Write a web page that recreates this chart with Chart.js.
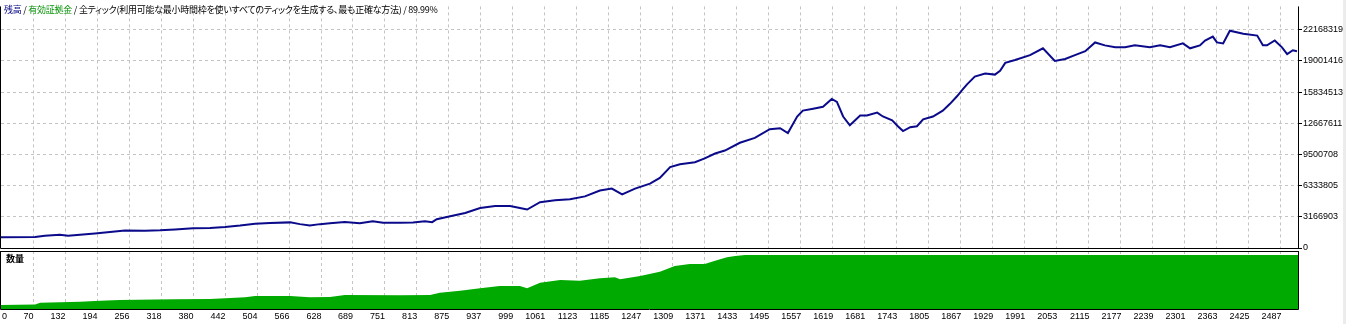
<!DOCTYPE html>
<html>
<head>
<meta charset="utf-8">
<script src="https://cdn.jsdelivr.net/npm/chart.js@4.4.1/dist/chart.umd.min.js"></script>
<style>
  html, body { margin: 0; padding: 0; background: #fff; }
  #wrap { position: relative; width: 1346px; height: 324px; overflow: hidden; }
  #top, #bottom { position: absolute; left: 0; }
  #top { top: 0; }
  #bottom { top: 250px; }
  .caption { position: absolute; font-family: "Noto Sans CJK JP"; font-size: 9px; line-height: 11px;
             white-space: nowrap; font-feature-settings: "palt"; color: #000; }
  #title { left: 4px; top: 4px; letter-spacing: -0.25px; }
  #volLabel { left: 6px; top: 253px; font-weight: bold; }
  #edge { position: absolute; right: 0; top: 0; width: 3px; height: 324px; background: #ececec; }
</style>
</head>
<body>
<div id="wrap">
  <canvas id="top" width="1346" height="264"></canvas>
  <canvas id="bottom" width="1346" height="74"></canvas>
  <div id="title" class="caption"><span style="color:#000080">残高</span> / <span style="color:#009000">有効証拠金</span> / 全ティック(利用可能な最小時間枠を使いすべてのティックを生成する、最も正確な方法) / 89.99%</div>
  <div id="volLabel" class="caption">数量</div>
  <div id="edge"></div>
</div>
<script>
// balance curve (trade number / account balance)
const tradeNo = [8,74,93,122,138,161,190,219,248,287,
  316,345,380,413,442,471,500,529,568,587,
  606,626,645,674,703,728,748,781,806,829,
  843,852,878,907,936,965,994,1013,1027,1052,
  1081,1110,1139,1168,1191,1211,1236,1265,1284,1304,
  1323,1352,1371,1391,1410,1439,1468,1497,1517,1532,
  1550,1561,1581,1600,1617,1627,1639,1652,1672,1685,
  1705,1716,1734,1745,1755,1769,1782,1794,1813,1832,
  1846,1860,1871,1879,1894,1914,1933,1943,1953,1972,
  2001,2026,2049,2069,2088,2108,2127,2146,2166,2185,
  2204,2233,2253,2272,2297,2311,2330,2340,2355,2363,
  2375,2388,2414,2441,2452,2460,2475,2489,2499,2510,
  2518];
const balance = [1089000,1108000,1237000,1336000,1237000,1336000,1484000,1633000,1781000,1762000,
  1801000,1880000,2009000,2029000,2128000,2276000,2474000,2543000,2603000,2425000,
  2276000,2425000,2504000,2642000,2524000,2722000,2573000,2573000,2603000,2722000,
  2623000,2919000,3216000,3563000,4058000,4256000,4256000,4058000,3909000,4651000,
  4849000,4948000,5245000,5839000,6037000,5443000,6037000,6532000,7126000,8214000,
  8511000,8709000,9105000,9600000,9897000,10688000,11183000,12074000,12173000,11678000,
  13360000,13954000,14152000,14350000,15142000,14845000,13360000,12470000,13459000,13459000,
  13756000,13360000,12965000,12371000,11876000,12272000,12371000,13064000,13360000,13954000,
  14647000,15439000,16131000,16626000,17418000,17715000,17616000,18012000,18804000,19100000,
  19595000,20288000,19001000,19199000,19595000,19991000,20882000,20585000,20387000,20387000,
  20585000,20387000,20585000,20387000,20783000,20288000,20585000,21080000,21476000,20882000,
  20783000,22069000,21773000,21575000,20585000,20585000,21080000,20387000,19694000,20090000,
  19991000];

// lot size panel
const volTrade = [8,74,84,161,200,238,345,413,481,500,
  568,606,645,674,781,839,858,897,936,974,
  1013,1027,1052,1091,1129,1168,1197,1207,1246,1284,
  1313,1342,1371,1391,1414,1430,1449,2520];
const volume = [0.40,0.45,0.63,0.73,0.83,0.90,0.97,1.00,1.17,1.30,
  1.30,1.17,1.20,1.40,1.37,1.40,1.63,1.83,2.07,2.30,
  2.30,2.07,2.63,2.90,2.83,3.07,3.17,2.97,3.30,3.73,
  4.30,4.50,4.50,4.83,5.17,5.30,5.40,5.40];

const xTicks = [0,70,132,194,256,318,380,442,504,566,628,689,751,813,875,937,999,1061,1123,1185,
  1247,1309,1371,1433,1495,1557,1619,1681,1743,1805,1867,1929,1991,2053,2115,2177,2239,2301,2363,2425,2487];
const yTicks = [0,3166903,6333805,9500708,12667611,15834513,19001416,22168319];

const xMin = 8, xMax = 2520;
const gridColor = '#c4c4c4';
const labelFont = '9px "Liberation Sans"';

Chart.defaults.font.family = 'Liberation Sans';
Chart.defaults.font.size = 9;
Chart.defaults.color = '#000';

function setXTicks(scale) {
  scale.ticks = xTicks.map(v => ({ value: Math.max(v, scale.min) }));
}

const framePlugin = {
  id: 'frame',
  afterDatasetsDraw(chart, args, opts) {
    const { ctx, chartArea: a } = chart;
    ctx.save();
    ctx.strokeStyle = '#000';
    ctx.lineWidth = 1;
    ctx.beginPath();
    ctx.moveTo(a.left - 0.5, a.top);
    ctx.lineTo(a.left - 0.5, a.bottom + 0.5);
    ctx.lineTo(a.right + 0.5, a.bottom + 0.5);
    ctx.lineTo(a.right + 0.5, a.top);
    if (opts.top) {
      ctx.moveTo(a.left - 0.5, a.top + 0.5);
      ctx.lineTo(a.right + 0.5, a.top + 0.5);
    }
    ctx.stroke();
    ctx.restore();
  }
};

const xLabelPlugin = {
  id: 'xLabels',
  afterDraw(chart) {
    const sc = chart.scales.x, ctx = chart.ctx;
    ctx.save();
    ctx.font = labelFont;
    ctx.fillStyle = '#000';
    ctx.textBaseline = 'top';
    sc.ticks.forEach((t, i) => {
      const px = sc.getPixelForTick(i);
      ctx.textAlign = i === 0 ? 'left' : 'right';
      ctx.fillText(String(xTicks[i]), i === 0 ? px + 1 : px + 0.5, chart.chartArea.bottom + 3);
    });
    ctx.restore();
  }
};

const hideFirst = c => (c.index === 0 ? 'rgba(0,0,0,0)' : gridColor);

new Chart(document.getElementById('top'), {
  type: 'line',
  data: {
    datasets: [{
      data: tradeNo.map((t, i) => ({ x: t, y: balance[i] })),
      borderColor: '#0a0a8a',
      borderWidth: 2,
      pointRadius: 0,
      tension: 0,
      fill: false
    }]
  },
  options: {
    animation: false,
    responsive: false,
    devicePixelRatio: 1,
    layout: { padding: { top: 0, left: 1, right: 0, bottom: 16 } },
    plugins: { legend: { display: false }, tooltip: { enabled: false }, frame: { top: false } },
    scales: {
      x: {
        type: 'linear', min: xMin, max: xMax,
        afterBuildTicks: setXTicks,
        ticks: { display: false },
        grid: { color: hideFirst, drawTicks: false },
        border: { display: false, dash: [3, 3] },
        afterFit(s) { s.height = 0; }
      },
      y: {
        position: 'right', min: 0, max: 24543500,
        afterBuildTicks(s) { s.ticks = yTicks.map(v => ({ value: v })); },
        ticks: { padding: 1, color: '#000', font: { size: 9 }, callback: (v, i) => String(yTicks[i]) },
        grid: { color: gridColor, tickLength: 4, tickColor: '#000' },
        border: { display: false, dash: [3, 3] },
        afterFit(s) { s.width = 48; }
      }
    }
  },
  plugins: [framePlugin]
});

new Chart(document.getElementById('bottom'), {
  type: 'line',
  data: {
    datasets: [{
      data: volTrade.map((t, i) => ({ x: t, y: volume[i] })),
      borderWidth: 0,
      borderColor: '#00aa00',
      backgroundColor: '#00aa00',
      fill: 'origin',
      pointRadius: 0,
      tension: 0
    }]
  },
  options: {
    animation: false,
    responsive: false,
    devicePixelRatio: 1,
    layout: { padding: { top: 1, left: 1, right: 48, bottom: 0 } },
    plugins: { legend: { display: false }, tooltip: { enabled: false }, frame: { top: true } },
    scales: {
      x: {
        type: 'linear', min: xMin, max: xMax,
        afterBuildTicks: setXTicks,
        ticks: { display: false },
        grid: { color: hideFirst, drawTicks: false },
        border: { display: false, dash: [3, 3] },
        afterFit(s) { s.height = 15; }
      },
      y: { display: false, min: 0, max: 5.8 }
    }
  },
  plugins: [framePlugin, xLabelPlugin]
});
</script>
</body>
</html>
